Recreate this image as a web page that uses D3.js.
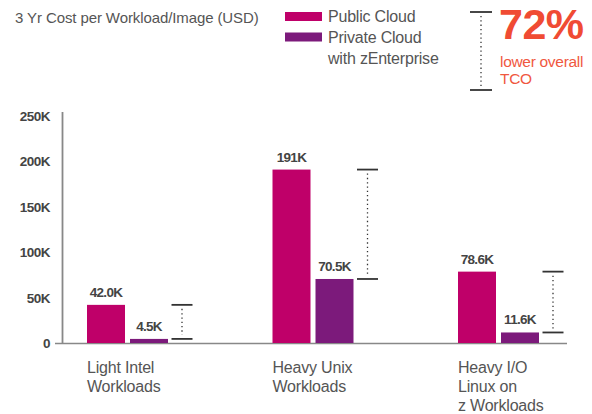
<!DOCTYPE html>
<html>
<head>
<meta charset="utf-8">
<script src="https://cdn.jsdelivr.net/npm/d3@7"></script>
<style>
  body { margin: 0; background: #fff; }
  text { font-family: "Liberation Sans", Arial, sans-serif; }
</style>
</head>
<body>
<div id="chart"></div>
<script>
const categories = [
  ["Light Intel", "Workloads"],
  ["Heavy Unix", "Workloads"],
  ["Heavy I/O", "Linux on", "z Workloads"]
];
const series = ["Public Cloud", "Private Cloud with zEnterprise"];
const publicCloud = [42000, 191000, 78600];
const privateCloud = [4500, 70500, 11600];
const valueLabels = [["42.0K", "4.5K"], ["191K", "70.5K"], ["78.6K", "11.6K"]];
const yTicks = [0, 50000, 100000, 150000, 200000, 250000];
const yTickLabels = ["0", "50K", "100K", "150K", "200K", "250K"];

const width = 592;
const height = 414;
const colors = ["#bf0069", "#7c1a7b"];
const textGray = "#555";

const svg = d3.select("#chart")
  .append("svg")
  .attr("width", width)
  .attr("height", height);

const y = d3.scaleLinear().domain([0, 250000]).range([343, 116]);
const keys = categories.map((c) => c.join(" "));
const x0 = d3.scaleBand().domain(keys).range([87, 643.5]);
const x1 = d3.scaleBand().domain(series).range([0, 81]).paddingInner(0.1163);

// title
svg.append("text")
  .attr("x", 15).attr("y", 23)
  .attr("font-size", 15)
  .attr("fill", textGray)
  .attr("letter-spacing", -0.1)
  .text("3 Yr Cost per Workload/Image (USD)");

// legend
const legendRows = [["Public Cloud"], ["Private Cloud", "with zEnterprise"]];
legendRows.forEach((lines, i) => {
  svg.append("rect")
    .attr("x", 285).attr("y", 12 + i * 20.5)
    .attr("width", 37).attr("height", 9)
    .attr("fill", colors[i]);
  lines.forEach((t, j) => {
    svg.append("text")
      .attr("x", 328).attr("y", 22 + i * 21 + j * 21)
      .attr("font-size", 16)
      .attr("fill", textGray)
      .attr("letter-spacing", -0.2)
      .text(t);
  });
});

// bracket helper
function bracket(cx, yTop, yBot, half) {
  const g = svg.append("g");
  g.append("line")
    .attr("x1", cx).attr("x2", cx)
    .attr("y1", yTop + 4).attr("y2", yBot - 4)
    .attr("stroke", "#333").attr("stroke-width", 1.3)
    .attr("stroke-dasharray", "1.3,3");
  [yTop, yBot].forEach((yy) => {
    g.append("line")
      .attr("x1", cx - half).attr("x2", cx + half)
      .attr("y1", yy).attr("y2", yy)
      .attr("stroke", "#333").attr("stroke-width", 1.8);
  });
}

// headline annotation
bracket(481, 12, 90, 11);
svg.append("text")
  .attr("x", 499).attr("y", 39)
  .attr("font-size", 43).attr("font-weight", "bold")
  .attr("fill", "#f04b33")
  .attr("letter-spacing", -0.5)
  .text("72%");
["lower overall", "TCO"].forEach((t, i) => {
  svg.append("text")
    .attr("x", 500).attr("y", 67 + i * 17)
    .attr("font-size", 15.5)
    .attr("fill", "#f0583f")
    .attr("letter-spacing", -0.3)
    .text(t);
});

// y axis
svg.append("line")
  .attr("x1", 62.5).attr("x2", 62.5)
  .attr("y1", 112).attr("y2", 343)
  .attr("stroke", "#888").attr("stroke-width", 1.8);
svg.append("line")
  .attr("x1", 55).attr("x2", 567)
  .attr("y1", 343.5).attr("y2", 343.5)
  .attr("stroke", "#888").attr("stroke-width", 1.5);

svg.selectAll(".ytick")
  .data(yTicks)
  .enter()
  .append("text")
  .attr("class", "ytick")
  .attr("x", 50)
  .attr("y", (d) => y(d) + 5)
  .attr("text-anchor", "end")
  .attr("font-size", 13.5).attr("font-weight", "bold")
  .attr("letter-spacing", -0.5)
  .attr("fill", "#444")
  .text((d, i) => yTickLabels[i]);

// bars
const groups = svg.selectAll(".group")
  .data(keys)
  .enter()
  .append("g")
  .attr("class", "group")
  .attr("transform", (d) => `translate(${x0(d)},0)`);

groups.each(function (key, gi) {
  const g = d3.select(this);
  const vals = [publicCloud[gi], privateCloud[gi]];
  vals.forEach((v, si) => {
    g.append("rect")
      .attr("x", x1(series[si]))
      .attr("y", y(v))
      .attr("width", x1.bandwidth())
      .attr("height", y(0) - y(v))
      .attr("fill", colors[si]);
    g.append("text")
      .attr("x", x1(series[si]) + x1.bandwidth() / 2)
      .attr("y", y(v) - 8)
      .attr("text-anchor", "middle")
      .attr("font-size", 13.5).attr("font-weight", "bold")
      .attr("letter-spacing", -0.7)
      .attr("fill", "#444")
      .text(valueLabels[gi][si]);
  });
  categories[gi].forEach((t, li) => {
    g.append("text")
      .attr("x", 0)
      .attr("y", 373 + li * 19)
      .attr("font-size", 16)
      .attr("fill", textGray)
      .attr("letter-spacing", -0.2)
      .text(t);
  });
});

keys.forEach((key, gi) => {
  bracket(x0(key) + 95, y(publicCloud[gi]), y(privateCloud[gi]), 10.5);
});
</script>
</body>
</html>
